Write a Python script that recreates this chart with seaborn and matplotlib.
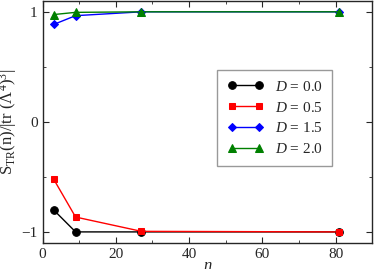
import numpy as np
import pandas as pd
import matplotlib
matplotlib.use("Agg")
import matplotlib.pyplot as plt
import seaborn as sns
from matplotlib.ticker import MultipleLocator

# Data
n_vals = [3, 9, 27, 81]
d00 = [-0.80, -1.00, -1.00, -1.00]
d05 = [-0.52, -0.865, -0.995, -1.00]
d15 = [0.885, 0.965, 1.00, 1.00]
d20 = [0.975, 0.995, 1.00, 1.00]

labels = [r"$D$ = 0.0", r"$D$ = 0.5", r"$D$ = 1.5", r"$D$ = 2.0"]
colors = ["black", "red", "blue", "green"]
markers = ["o", "s", "D", "^"]
msizes = [5.5, 5, 4.2, 5.5]

sns.set_style("ticks")
plt.rcParams["font.family"] = ["Liberation Serif", "DejaVu Serif"]
plt.rcParams["mathtext.fontset"] = "custom"
plt.rcParams["mathtext.rm"] = "Liberation Serif"
plt.rcParams["mathtext.it"] = "Liberation Serif:italic"

fig = plt.figure(figsize=(3.74, 2.69), dpi=100)
ax = fig.add_axes([0.114, 0.097, 0.881, 0.9])

series = [d00, d05, d15, d20]
for ys, lab, c, m, ms in zip(series, labels, colors, markers, msizes):
    df = pd.DataFrame({"n": n_vals, "S": ys})
    sns.lineplot(data=df, x="n", y="S", ax=ax, color=c, marker=m,
                 markersize=ms, markeredgecolor=c, linewidth=1,
                 label=lab)

ax.set_xlim(0, 90)
ax.set_ylim(-1.1, 1.1)
ax.xaxis.set_major_locator(MultipleLocator(20))
ax.xaxis.set_minor_locator(MultipleLocator(10))
ax.yaxis.set_minor_locator(MultipleLocator(0.5))
ax.tick_params(which="both", direction="in", top=True, right=True,
               labelsize=11)
ax.tick_params(which="major", length=4)
ax.tick_params(which="minor", length=2)
ax.set_yticks([-1, 0, 1])
ax.set_yticklabels(["\u22121", "0", "1"])

ax.set_xlabel(r"$n$", fontsize=12, labelpad=-2)
ax.set_ylabel(r"S$_{\rm TR}$(n)/|tr ($\Lambda^4$)$^3$|", fontsize=12,
              labelpad=2)

leg = ax.legend(loc="upper left", bbox_to_anchor=(0.53, 0.715),
                borderaxespad=0, frameon=True, fancybox=False, fontsize=11,
                handlelength=2.4, borderpad=0.65, labelspacing=0.45,
                handletextpad=0.7, numpoints=2)
leg.get_frame().set_edgecolor("gray")
leg.get_frame().set_linewidth(1)

for s in ax.spines.values():
    s.set_linewidth(1)

fig.savefig("out.png", dpi=100)
